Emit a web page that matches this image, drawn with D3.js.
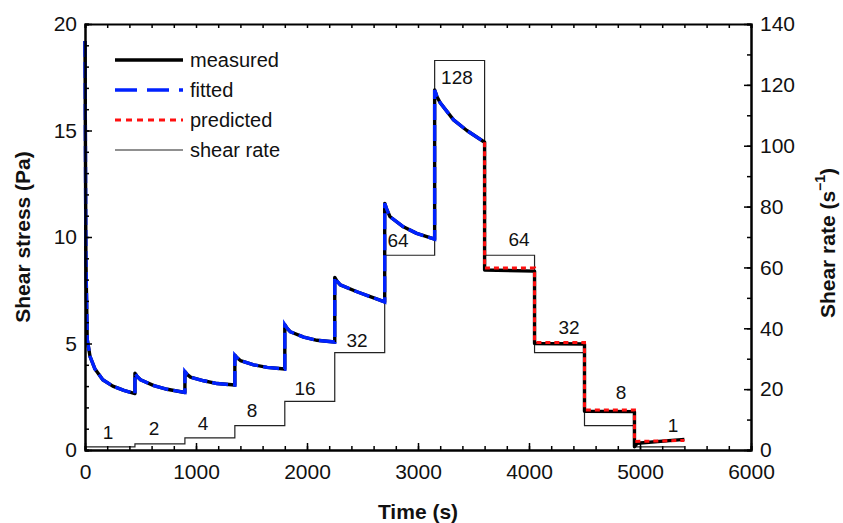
<!DOCTYPE html>
<html>
<head>
<meta charset="utf-8">
<script src="https://cdn.jsdelivr.net/npm/d3@7"></script>
<style>
  body { margin: 0; background: #fff; }
  svg text { font-family: "Liberation Sans", Arial, Helvetica, sans-serif; fill: #111; }
</style>
</head>
<body>
<div id="chart"></div>
<script>
// time (s), shear stress (Pa)
const measured = [
  [0, 19.2], [8, 9], [20, 5.2], [45, 4.4], [90, 3.8], [160, 3.3], [250, 3.0], [350, 2.8], [450, 2.65],
  [450, 3.6], [470, 3.45], [500, 3.3], [620, 3.02], [740, 2.85], [900, 2.7],
  [900, 3.68], [920, 3.55], [950, 3.42], [1070, 3.25], [1190, 3.12], [1350, 3.05],
  [1350, 4.45], [1370, 4.33], [1400, 4.2], [1520, 4.0], [1640, 3.88], [1800, 3.8],
  [1800, 5.88], [1820, 5.72], [1850, 5.55], [1970, 5.3], [2090, 5.15], [2250, 5.07],
  [2250, 8.1], [2270, 7.93], [2300, 7.75], [2450, 7.43], [2570, 7.2], [2700, 6.95],
  [2700, 11.58], [2720, 11.28], [2748, 10.95], [2868, 10.48], [2988, 10.17], [3150, 9.9],
  [3150, 16.9], [3170, 16.6], [3200, 16.3], [3320, 15.5], [3440, 15.0], [3600, 14.45],
  [3600, 8.45], [4050, 8.4],
  [4050, 5.0], [4500, 4.98],
  [4500, 1.82], [4950, 1.8],
  [4950, 0.15], [4975, 0.32], [5400, 0.5]
];
const fitted = [
  [0, 19.2], [8, 9], [20, 5.2], [45, 4.4], [90, 3.8], [160, 3.3], [250, 3.0], [350, 2.8], [450, 2.65],
  [450, 3.6], [470, 3.45], [500, 3.3], [620, 3.02], [740, 2.85], [900, 2.7],
  [900, 3.68], [920, 3.55], [950, 3.42], [1070, 3.25], [1190, 3.12], [1350, 3.05],
  [1350, 4.45], [1370, 4.33], [1400, 4.2], [1520, 4.0], [1640, 3.88], [1800, 3.8],
  [1800, 5.88], [1820, 5.72], [1850, 5.55], [1970, 5.3], [2090, 5.15], [2250, 5.07],
  [2250, 8.1], [2270, 7.93], [2300, 7.75], [2450, 7.43], [2570, 7.2], [2700, 6.95],
  [2700, 11.58], [2720, 11.28], [2748, 10.95], [2868, 10.48], [2988, 10.17], [3150, 9.9],
  [3150, 16.9], [3170, 16.6], [3200, 16.3], [3320, 15.5], [3440, 15.0], [3600, 14.45]
];
const predicted = [
  [3600, 14.45], [3600, 8.55], [4050, 8.55],
  [4050, 5.05], [4500, 5.05],
  [4500, 1.88], [4950, 1.88],
  [4950, 0.4], [5400, 0.45]
];
// shear rate steps (s^-1), each held 450 s
const stepStart = [0, 450, 900, 1350, 1800, 2250, 2700, 3150, 3600, 4050, 4500, 4950];
const stepRate = [1, 2, 4, 8, 16, 32, 64, 128, 64, 32, 8, 1];
const stepLength = 450;
// step labels: text, time, height in shear-rate units
const labelText = ["1", "2", "4", "8", "16", "32", "64", "128", "64", "32", "8", "1"];
const labelT = [207, 622, 1063, 1505, 1982, 2450, 2820, 3351, 3910, 4360, 4829, 5297];
const labelRate = [5.9, 7.2, 8.9, 13.1, 20.4, 36.1, 69.0, 122.6, 69.3, 40.4, 19.1, 8.2];

const xTicks = [0, 1000, 2000, 3000, 4000, 5000, 6000];
const yTicks = [0, 5, 10, 15, 20];
const yRTicks = [0, 20, 40, 60, 80, 100, 120, 140];

const margin = { top: 24, right: 92, bottom: 73, left: 85 };
const width = 843 - margin.left - margin.right;
const height = 523 - margin.top - margin.bottom;

const svg = d3.select("#chart")
  .append("svg")
  .attr("width", 843)
  .attr("height", 523);
const g = svg.append("g")
  .attr("transform", `translate(${margin.left},${margin.top})`);

const x = d3.scaleLinear().domain([0, 6000]).range([0, width]);
const y = d3.scaleLinear().domain([0, 20]).range([height, 0]);
const yR = d3.scaleLinear().domain([0, 140]).range([height, 0]);

// shear rate step line
const ratePts = [];
stepStart.forEach((t, i) => {
  ratePts.push([t, stepRate[i]]);
  ratePts.push([t + stepLength, stepRate[i]]);
});
const rateLine = d3.line().x(d => x(d[0])).y(d => yR(d[1]));
g.append("path")
  .datum(ratePts)
  .attr("d", rateLine)
  .attr("fill", "none")
  .attr("stroke", "#222")
  .attr("stroke-width", 1.2);

const stressLine = d3.line().x(d => x(d[0])).y(d => y(d[1]));
g.append("path")
  .datum(measured)
  .attr("d", stressLine)
  .attr("fill", "none")
  .attr("stroke", "#000")
  .attr("stroke-width", 3.4)
  .attr("stroke-linejoin", "round");
g.append("path")
  .datum(fitted)
  .attr("d", stressLine)
  .attr("fill", "none")
  .attr("stroke", "#0022ff")
  .attr("stroke-width", 3.4)
  .attr("stroke-dasharray", "16,5");
g.append("path")
  .datum(predicted)
  .attr("d", stressLine)
  .attr("fill", "none")
  .attr("stroke", "#ff1010")
  .attr("stroke-width", 3)
  .attr("stroke-dasharray", "5,4");

// step labels
g.selectAll(".steplab")
  .data(labelText)
  .enter()
  .append("text")
  .attr("class", "steplab")
  .attr("x", (d, i) => x(labelT[i]))
  .attr("y", (d, i) => yR(labelRate[i]))
  .attr("dy", "0.36em")
  .attr("text-anchor", "middle")
  .attr("font-size", "19px")
  .text(d => d);

// axes, ticks pointing inwards
const fmt = d3.format("d");
function styleAxis(sel) {
  sel.selectAll("path").attr("stroke", "#000").attr("stroke-width", 2);
  sel.selectAll("line").attr("stroke", "#000").attr("stroke-width", 1.5);
  sel.selectAll("text").attr("font-size", "21px").attr("fill", "#111")
    .attr("font-family", "Liberation Sans, Arial, sans-serif");
}
g.append("g")
  .attr("transform", `translate(0,${height})`)
  .call(d3.axisBottom(x).tickValues(d3.range(0, 6001, 200)).tickSize(-4).tickFormat(""))
  .call(styleAxis);
g.append("g")
  .attr("transform", `translate(0,${height})`)
  .call(d3.axisBottom(x).tickValues(xTicks).tickFormat(fmt).tickSizeInner(-7).tickSizeOuter(0).tickPadding(10))
  .call(styleAxis)
  .selectAll("text").attr("dy", "0.9em");
g.append("g")
  .call(d3.axisTop(x).tickValues(d3.range(0, 6001, 200)).tickSize(-4).tickFormat(""))
  .call(styleAxis);
g.append("g")
  .call(d3.axisLeft(y).tickValues(d3.range(0, 21, 1)).tickSize(-4).tickFormat(""))
  .call(styleAxis);
g.append("g")
  .call(d3.axisLeft(y).tickValues(yTicks).tickFormat(fmt).tickSizeInner(-7).tickSizeOuter(0).tickPadding(8))
  .call(styleAxis);
g.append("g")
  .attr("transform", `translate(${width},0)`)
  .call(d3.axisRight(yR).tickValues(d3.range(0, 141, 10)).tickSize(-4).tickFormat(""))
  .call(styleAxis);
g.append("g")
  .attr("transform", `translate(${width},0)`)
  .call(d3.axisRight(yR).tickValues(yRTicks).tickFormat(fmt).tickSizeInner(-7).tickSizeOuter(0).tickPadding(9))
  .call(styleAxis);

// axis titles
svg.append("text")
  .attr("transform", `translate(23,${margin.top + height / 2}) rotate(-90)`)
  .attr("text-anchor", "middle")
  .attr("dy", "0.35em")
  .attr("font-size", "21px")
  .attr("font-weight", "bold")
  .text("Shear stress (Pa)");
svg.append("text")
  .attr("x", margin.left + width / 2)
  .attr("y", 512)
  .attr("dy", "0.35em")
  .attr("text-anchor", "middle")
  .attr("font-size", "21px")
  .attr("font-weight", "bold")
  .text("Time (s)");
const rTitle = svg.append("text")
  .attr("transform", `translate(828,${margin.top + height / 2 + 6}) rotate(-90)`)
  .attr("text-anchor", "middle")
  .attr("dy", "0.35em")
  .attr("font-size", "21px")
  .attr("font-weight", "bold");
rTitle.append("tspan").text("Shear rate (s");
rTitle.append("tspan").attr("font-size", "14px").attr("dy", "-0.75em").text("\u22121");
rTitle.append("tspan").attr("dy", "0.5em").text(")");

// legend
const legendNames = ["measured", "fitted", "predicted", "shear rate"];
const legendColor = ["#000", "#0022ff", "#ff1010", "#222"];
const legendWidth = [3.4, 3.4, 3, 1.2];
const legendDash = [null, "22,10", "6,5", null];
const leg = svg.append("g").attr("transform", "translate(115,60)");
legendNames.forEach((name, i) => {
  const row = leg.append("g").attr("transform", `translate(0,${i * 30})`);
  row.append("line")
    .attr("x1", 0).attr("x2", 68)
    .attr("stroke", legendColor[i])
    .attr("stroke-width", legendWidth[i])
    .attr("stroke-dasharray", legendDash[i]);
  row.append("text")
    .attr("x", 75)
    .attr("dy", "0.35em")
    .attr("font-size", "20px")
    .text(name);
});
</script>
</body>
</html>
